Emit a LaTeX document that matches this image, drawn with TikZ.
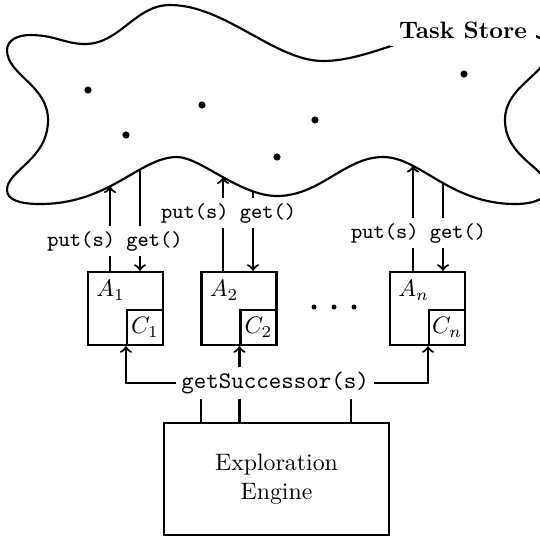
\documentclass[tikz,border=0pt]{standalone}
\usetikzlibrary{calc,intersections}
\begin{document}
\begin{tikzpicture}[x=0.42pt,y=-0.42pt, line width=0.9pt,
  abox/.style={draw, minimum width=31.5pt, minimum height=30.7pt, inner sep=0pt},
  cbox/.style={draw, minimum width=15.1pt, minimum height=14.7pt, inner sep=0pt, anchor=south east},
  alabel/.style={anchor=north west, inner sep=3.5pt},
  call/.style={font=\ttfamily\small, fill=white, inner sep=2pt},
  arr/.style={->}]
\useasboundingbox (0,0) rectangle (540,536);

% task store cloud
\draw[name path=cloud] (7,50) .. controls (7,40) and (18,35) .. (30,35)
  .. controls (55,35) and (65,44) .. (85,44)
  .. controls (120,44) and (135,5) .. (170,5)
  .. controls (225,5) and (275,61) .. (323,61)
  .. controls (370,61) and (420,28) .. (470,28)
  .. controls (500,28) and (548,30) .. (548,50)
  .. controls (548,75) and (505,85) .. (505,120)
  .. controls (505,158) and (548,168) .. (548,188)
  .. controls (548,198) and (535,204) .. (515,204)
  .. controls (450,204) and (420,157) .. (383,157)
  .. controls (345,157) and (320,196) .. (277,196)
  .. controls (240,196) and (200,157) .. (177,157)
  .. controls (140,157) and (110,204) .. (40,204)
  .. controls (20,204) and (7,200) .. (7,190)
  .. controls (7,170) and (48,160) .. (48,120)
  .. controls (48,85) and (7,75) .. (7,50) -- cycle;
\node[font=\bfseries, fill=white, inner xsep=4pt, inner ysep=3pt] (ts) at (463,30) {Task Store};
\foreach \p in {(88,90),(126,135),(202,105),(315,120),(277,157),(464,74)}
  \fill \p circle (1.5pt);

% agents
\node[abox] (A1) at (125.5,308.5) {};
\node[cbox] (C1) at (A1.south east) {$C_1$};
\node[alabel] (a1) at (A1.north west) {$A_1$};
\node[abox] (A2) at (239,308.5) {};
\node[cbox] (C2) at (A2.south east) {$C_2$};
\node[alabel] (a2) at (A2.north west) {$A_2$};
\node[abox] (An) at (427.5,308.5) {};
\node[cbox] (Cn) at (An.south east) {$C_n$};
\node[alabel] (an) at (An.north west) {$A_n$};
\foreach \x in {314,334,354}
  \fill (\x,307) circle (1.05pt);

% put / get endpoints on the cloud
\foreach \n/\x in {p1/110,g1/140,p2/223,g2/253,pn/413,gn/443}{
  \path[name path=v\n] (\x,260) -- (\x,140);
  \path[name intersections={of=cloud and v\n, by={\n}}];
}
\draw[arr] (p1 |- A1.north) -- (p1);
\draw[arr] (g1) -- (g1 |- A1.north);
\draw[arr] (p2 |- A2.north) -- (p2);
\draw[arr] (g2) -- (g2 |- A2.north);
\draw[arr] (pn |- An.north) -- (pn);
\draw[arr] (gn) -- (gn |- An.north);
\node[call] (l1) at (115,241) {put(s) get()};
\node[call] (l2) at (228.5,213) {put(s) get()};
\node[call] (ln) at (418.5,233) {put(s) get()};

% exploration engine
\node[draw, minimum width=94.5pt, minimum height=47pt, align=center] (E) at (276.5,479) {Exploration\\Engine};
\coordinate (hy) at (275,383);
\coordinate (e1) at ($(E.north west)+(38,0)$);
\coordinate (e3) at ($(E.north west)+(188,0)$);
\draw[arr] (e1) |- (C1.south west |- hy) -- (C1.south west);
\draw[arr] (C2.south west |- E.north) -- (C2.south west);
\draw[arr] (e3) |- (Cn.south west |- hy) -- (Cn.south west);
\node[font=\ttfamily, fill=white, inner sep=2pt] (gs) at (hy) {getSuccessor(s)};
\end{tikzpicture}
\end{document}
